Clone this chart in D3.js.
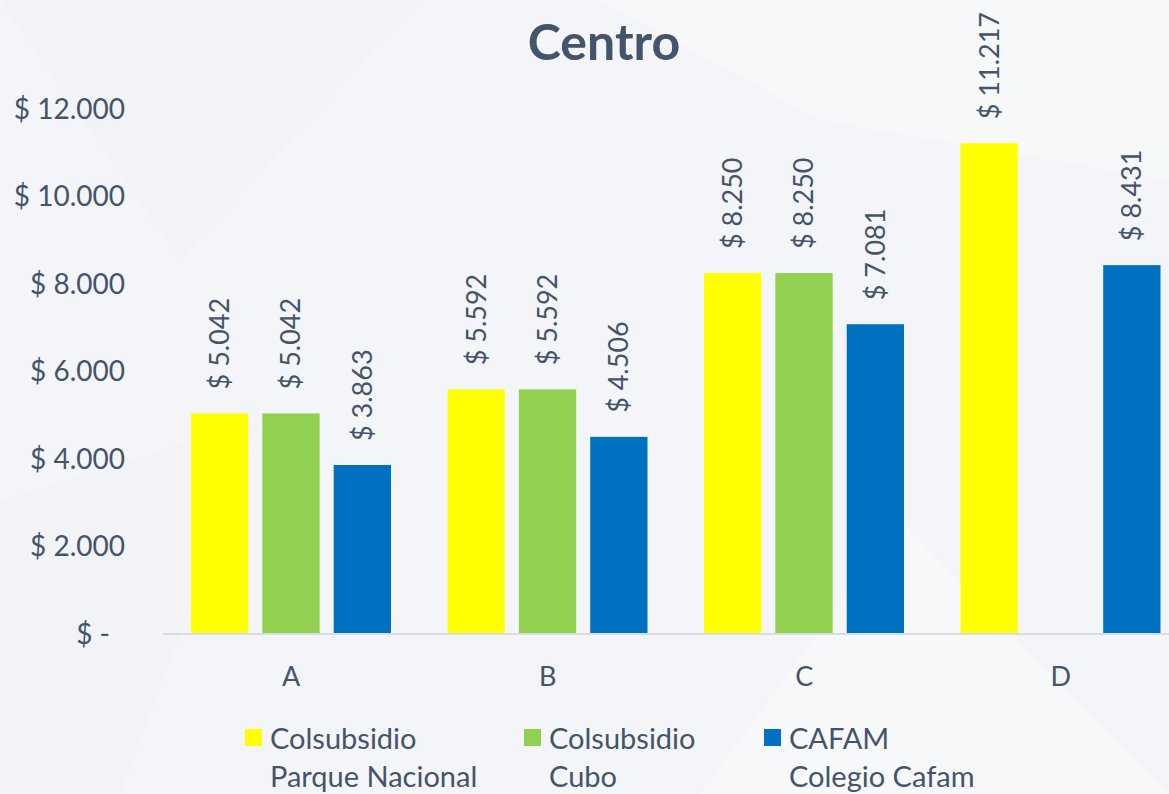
<!DOCTYPE html>
<html>
<head>
<meta charset="utf-8">
<script src="https://cdn.jsdelivr.net/npm/d3@7"></script>
<style>
  body { margin: 0; background: #f4f5f8; }
  svg { display: block; font-family: Lato, "Open Sans", sans-serif; }
</style>
</head>
<body>
<svg id="canvas"></svg>
<script>
let categories = ["A", "B", "C", "D"]
let seriesNames = ["Colsubsidio Parque Nacional", "Colsubsidio Cubo", "CAFAM Colegio Cafam"]
let legendLines = [["Colsubsidio", "Parque Nacional"], ["Colsubsidio", "Cubo"], ["CAFAM", "Colegio Cafam"]]
let parqueNacional = [5042, 5592, 8250, 11217]
let cubo = [5042, 5592, 8250, null]
let cafam = [3863, 4506, 7081, 8431]
let yTicks = [0, 2000, 4000, 6000, 8000, 10000, 12000]
let colors = ["#ffff00", "#92d050", "#0070c0"]

let width = 1169
let height = 794
let textColor = "#44546a"

let svg = d3.select('#canvas').attr('width', width).attr('height', height)

// faint background shapes
let bg = svg.append('g')
bg.append('rect').attr('width', width).attr('height', height).attr('fill', '#f4f5f8')
let shapes = [
    [[0, 0], [420, 0], [180, 260]],
    [[600, 0], [1169, 0], [1169, 180], [820, 120]],
    [[0, 500], [260, 420], [120, 794], [0, 794]],
    [[700, 794], [900, 520], [1169, 794]]
]
shapes.forEach((p, i) => {
    bg.append('polygon').attr('points', p.map(d => d.join(',')).join(' '))
      .attr('fill', i % 2 ? '#f8f9fb' : '#f1f2f5').attr('opacity', 0.7)
})

let series = [parqueNacional, cubo, cafam]

let xScale = d3.scaleBand().domain(categories).range([163, 1189])
let xInner = d3.scaleBand().domain(d3.range(3)).range([28, 228]).paddingInner(0.197)
let yScale = d3.scaleLinear().domain([0, 12000]).range([634, 109])

let fmt = d3.formatLocale({decimal: ",", thousands: ".", grouping: [3], currency: ["$", ""]}).format(",d")
let money = v => "$ " + fmt(v)

// y axis labels
let yAxis = svg.append('g')
yAxis.selectAll('text').data(yTicks).enter().append('text')
    .attr('x', d => d === 0 ? 110 : 125)
    .attr('y', d => yScale(d))
    .attr('dy', '0.35em')
    .attr('text-anchor', 'end')
    .attr('font-size', 28)
    .attr('fill', textColor)
    .text(d => d === 0 ? "$ -" : money(d))

// bars
let groups = svg.append('g').selectAll('g').data(categories).enter().append('g')
    .attr('transform', d => `translate(${xScale(d)},0)`)

groups.each(function(cat, ci) {
    let g = d3.select(this)
    series.forEach((s, si) => {
        let v = s[ci]
        if (v == null) return
        g.append('rect')
            .attr('x', xInner(si))
            .attr('y', yScale(v))
            .attr('width', xInner.bandwidth())
            .attr('height', yScale(0) - yScale(v))
            .attr('fill', colors[si])
        let cx = xInner(si) + xInner.bandwidth() / 2
        let ty = yScale(v) - 24
        g.append('text')
            .attr('transform', `translate(${cx},${ty}) rotate(-90)`)
            .attr('dy', '0.35em')
            .attr('font-size', 27)
            .attr('fill', textColor)
            .text(money(v))
    })
})

// x axis
svg.append('line').attr('x1', 163).attr('x2', width).attr('y1', 634).attr('y2', 634)
    .attr('stroke', '#d9dde3').attr('stroke-width', 2)
svg.append('g').selectAll('text').data(categories).enter().append('text')
    .attr('x', d => xScale(d) + xScale.bandwidth() / 2)
    .attr('y', 677)
    .attr('dy', '0.35em')
    .attr('text-anchor', 'middle')
    .attr('font-size', 27)
    .attr('fill', textColor)
    .text(d => d)

// title
svg.append('text').attr('x', 604).attr('y', 42).attr('dy', '0.35em')
    .attr('text-anchor', 'middle').attr('font-size', 50).attr('font-weight', 'bold')
    .attr('fill', textColor).text("Centro")

// legend
let legendX = [245, 524, 764]
let legend = svg.append('g').selectAll('g').data(seriesNames).enter().append('g')
    .attr('transform', (d, i) => `translate(${legendX[i]},729)`)
legend.append('rect').attr('width', 17).attr('height', 17).attr('fill', (d, i) => colors[i])
legend.each(function(d, i) {
    let t = d3.select(this).append('text').attr('font-size', 29).attr('fill', textColor)
    legendLines[i].forEach((line, li) => {
        t.append('tspan').attr('x', 25).attr('y', 20 + li * 38).text(line)
    })
})
</script>
</body>
</html>
